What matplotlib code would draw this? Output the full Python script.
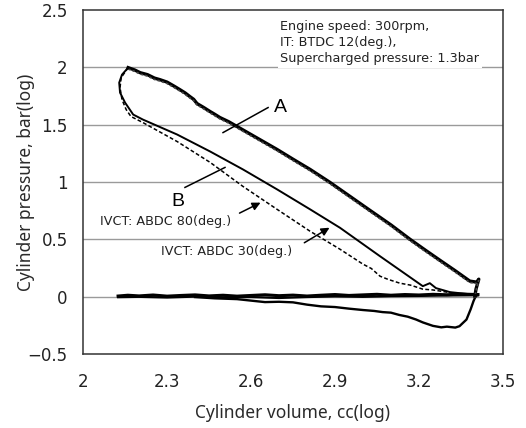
import numpy as np
from matplotlib import pyplot as plt

# log volume / log pressure
# expansion stroke (both IVCT settings lie on top of each other)
vol_exp = [2.161, 2.185, 2.204, 2.230, 2.255, 2.275, 2.300, 2.325, 2.346, 2.365, 2.382, 2.395,
           2.407, 2.430, 2.454, 2.470, 2.489, 2.520, 2.550, 2.620, 2.693, 2.750, 2.811,
           2.882, 2.950, 3.025, 3.100, 3.168, 3.220, 3.275, 3.330, 3.382, 3.407, 3.414,
           3.404, 3.400]
p_exp = [1.996, 1.975, 1.952, 1.935, 1.905, 1.891, 1.870, 1.835, 1.804, 1.775, 1.743, 1.720,
         1.683, 1.650, 1.613, 1.590, 1.561, 1.525, 1.483, 1.385, 1.283, 1.198, 1.109,
         0.996, 0.880, 0.752, 0.625, 0.500, 0.410, 0.317, 0.225, 0.135, 0.126, 0.152,
         0.065, 0.004]

# compression stroke, IVCT ABDC 30 (solid)
vol_c30 = [2.161, 2.139, 2.129, 2.132, 2.150, 2.179, 2.214, 2.336, 2.454, 2.571, 2.693,
           2.811, 2.918, 3.061, 3.214, 3.239, 3.261, 3.311, 3.411]
p_c30 = [1.996, 1.935, 1.865, 1.778, 1.691, 1.587, 1.543, 1.413, 1.265, 1.109, 0.935,
         0.761, 0.600, 0.352, 0.091, 0.117, 0.074, 0.039, 0.013]

# compression stroke, IVCT ABDC 80 (dashed)
vol_c80 = [2.161, 2.136, 2.132, 2.139, 2.154, 2.171, 2.214, 2.336, 2.454, 2.571, 2.693,
           2.811, 2.918, 3.000, 3.030, 3.061, 3.090, 3.132, 3.170, 3.214, 3.250, 3.300, 3.411]
p_c80 = [1.996, 1.909, 1.822, 1.717, 1.630, 1.570, 1.517, 1.352, 1.170, 0.961, 0.761,
         0.570, 0.413, 0.283, 0.245, 0.178, 0.150, 0.117, 0.100, 0.065, 0.058, 0.039, 0.004]

# gas exchange near zero
vol_int = [2.125, 2.160, 2.200, 2.250, 2.300, 2.350, 2.400, 2.450, 2.500, 2.550, 2.600,
           2.650, 2.700, 2.750, 2.800, 2.850, 2.900, 2.950, 3.000, 3.050, 3.100, 3.150,
           3.200, 3.250, 3.300, 3.350, 3.411]
p_int = [0.005, 0.012, 0.006, 0.014, 0.004, 0.010, 0.015, 0.006, 0.012, 0.004, 0.010,
         0.016, 0.008, 0.013, 0.005, 0.012, 0.018, 0.010, 0.015, 0.020, 0.012, 0.018,
         0.014, 0.020, 0.016, 0.022, 0.018]
vol_int2 = [2.125, 2.200, 2.300, 2.400, 2.500, 2.600, 2.700, 2.800, 2.900, 3.000, 3.100,
            3.200, 3.300, 3.411]
p_int2 = [-0.005, -0.002, -0.008, 0.000, -0.006, -0.004, -0.012, -0.004, 0.002, -0.002,
          0.004, 0.006, 0.010, 0.012]

# lower loop below zero
vol_low = [2.400, 2.470, 2.550, 2.600, 2.650, 2.700, 2.750, 2.800, 2.850, 2.900, 2.950,
           3.000, 3.040, 3.070, 3.100, 3.130, 3.160, 3.190, 3.214, 3.250, 3.280, 3.300,
           3.330, 3.345, 3.370, 3.385, 3.395, 3.404]
p_low = [-0.004, -0.015, -0.022, -0.035, -0.048, -0.045, -0.050, -0.070, -0.085, -0.091,
         -0.105, -0.117, -0.125, -0.135, -0.140, -0.160, -0.175, -0.200, -0.225, -0.255,
         -0.268, -0.262, -0.270, -0.258, -0.200, -0.110, -0.040, 0.010]

info_lines = ['Engine speed: 300rpm,', 'IT: BTDC 12(deg.),', 'Supercharged pressure: 1.3bar']

fig = plt.figure(figsize=(5.26, 4.28), dpi=100)
ax = fig.add_axes([0.158, 0.173, 0.798, 0.804])

for yv in [0.5, 1.0, 1.5, 2.0, 0.0]:
    ax.axhline(yv, color='#9a9a9a', lw=1.0, zorder=1)

ax.plot(vol_int, p_int, color='black', lw=2.2, zorder=3)
ax.plot(vol_int2, p_int2, color='black', lw=1.6, zorder=3)
ax.plot(vol_low, p_low, color='black', lw=1.7, zorder=3)
ax.plot(vol_exp, p_exp, color='black', lw=2.4, zorder=3)
ax.plot(vol_exp, np.array(p_exp) - 0.012, color='#444444', lw=1.2, ls=(0, (1.5, 1.2)), zorder=3)
ax.plot(vol_c30, p_c30, color='black', lw=1.4, zorder=3)
ax.plot(vol_c80, p_c80, color='black', lw=1.1, ls=(0, (2.5, 1.5)), zorder=3)

# labels A / B with leader lines
ax.plot([2.661, 2.500], [1.648, 1.430], color='black', lw=1.1, zorder=4)
ax.text(2.705, 1.65, 'A', fontsize=14, family='Liberation Sans', ha='center', va='center')
ax.plot([2.364, 2.507], [0.952, 1.126], color='black', lw=1.1, zorder=4)
ax.text(2.34, 0.83, 'B', fontsize=14, family='Liberation Sans', ha='center', va='center')

ax.annotate('', xy=(2.643, 0.830), xytext=(2.550, 0.717),
            arrowprops=dict(arrowstyle='-|>', color='black', lw=1.1, mutation_scale=12))
ax.text(2.06, 0.655, 'IVCT: ABDC 80(deg.)', fontsize=9.2, family='DejaVu Sans',
        ha='left', va='center', color='#222222')
ax.annotate('', xy=(2.889, 0.613), xytext=(2.782, 0.457),
            arrowprops=dict(arrowstyle='-|>', color='black', lw=1.1, mutation_scale=12))
ax.text(2.28, 0.39, 'IVCT: ABDC 30(deg.)', fontsize=9.2, family='DejaVu Sans',
        ha='left', va='center', color='#222222')

ax.text(2.705, 2.41, '\n'.join(info_lines), fontsize=9.2, family='DejaVu Sans',
        ha='left', va='top', linespacing=1.3, color='#222222',
        bbox=dict(facecolor='white', edgecolor='none', pad=2), zorder=5)

ax.set_xlim(2, 3.5)
ax.set_ylim(-0.5, 2.5)
ax.set_xticks([2, 2.3, 2.6, 2.9, 3.2, 3.5])
ax.set_xticklabels(['2', '2.3', '2.6', '2.9', '3.2', '3.5'])
ax.set_yticks([-0.5, 0, 0.5, 1, 1.5, 2, 2.5])
ax.set_yticklabels(['\u22120.5', '0', '0.5', '1', '1.5', '2', '2.5'])
ax.tick_params(length=0, labelsize=12, colors='#222222')
ax.tick_params(axis='x', pad=14)
ax.tick_params(axis='y', pad=11)
for s in ax.spines.values():
    s.set_color('#333333')
    s.set_linewidth(1.1)

ax.set_xlabel('Cylinder volume, cc(log)', fontsize=12.5, family='Noto Sans', color='#2a2a2a',
              labelpad=9)
ax.set_ylabel('Cylinder pressure, bar(log)', fontsize=12.5, family='Noto Sans', color='#2a2a2a')
ax.yaxis.set_label_coords(-0.115, 0.5)

plt.savefig('out.png', dpi=100)
